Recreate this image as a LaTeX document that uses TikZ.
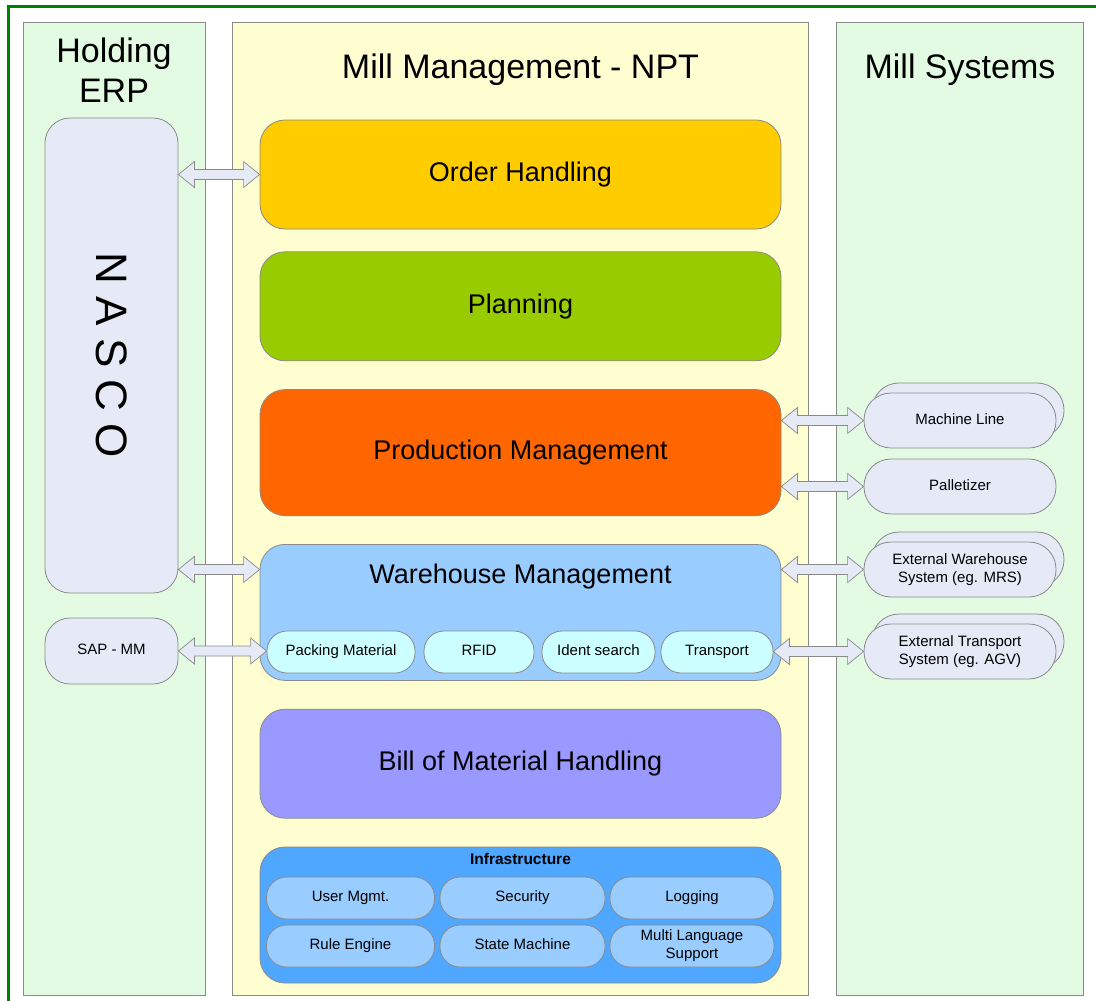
\documentclass[tikz,border=0pt]{standalone}
\usepackage{fontspec}
\setmainfont{Liberation Sans}
\usepackage{tikz}
\usetikzlibrary{positioning,calc,shadows}
\definecolor{frameg}{HTML}{008000}
\definecolor{colgreen}{HTML}{E2FBE2}
\definecolor{colyellow}{HTML}{FFFED0}
\definecolor{edgegray}{HTML}{8A8A8A}
\definecolor{extfill}{HTML}{E5EAF6}
\definecolor{orderc}{HTML}{FFCC00}
\definecolor{planc}{HTML}{99CC00}
\definecolor{prodc}{HTML}{FF6600}
\definecolor{whc}{HTML}{99CCFF}
\definecolor{whpart}{HTML}{CCFFFF}
\definecolor{bomc}{HTML}{9999FF}
\definecolor{infrac}{HTML}{4FA7FF}

\begin{document}
\begin{tikzpicture}[
  x=1pt, y=-1pt,
  column/.style={draw=edgegray, line width=0.8pt, anchor=north west, inner sep=0pt, minimum height=973pt},
  coltitle/.style={font=\fontsize{34}{40}\selectfont, align=center},
  module/.style={draw=edgegray, line width=0.8pt, rounded corners=25pt, minimum width=521pt, font=\fontsize{27}{32}\selectfont},
  part/.style={draw=edgegray, line width=0.8pt, rounded corners=20pt, minimum height=42pt, inner sep=0pt,
               font=\fontsize{15}{18}\selectfont, align=center, text height=11pt, text depth=3.2pt},
  ext/.style={draw=edgegray, line width=0.8pt, fill=extfill, rounded corners=27pt, minimum width=192pt, minimum height=55pt, inner sep=0pt,
              font=\fontsize{15}{18}\selectfont, align=center, text height=11pt, text depth=3.2pt},
  twoline/.style={text height=, text depth=},
  backcopy/.style={copy shadow={shadow xshift=8pt, shadow yshift=10pt}},
  link/.style={draw=edgegray, fill=extfill, line width=0.7pt,
    to path={-- ++(16,-13) -- ++(0,8) -- ($(\tikztotarget)+(-16,-5)$) -- ++(0,-8) -- (\tikztotarget)
             -- ++(-16,13) -- ++(0,-8) -- ($(\tikztostart)+(16,5)$) -- ++(0,8) -- cycle}},
]
  \fill[white] (0,0) rectangle (1096,1001);
  \useasboundingbox (0,0) rectangle (1096,1001);
  \draw[frameg, line width=2.8pt] (8.7,1001) -- (8.7,6.7) -- (1096,6.7);

  % columns
  \node[column, fill=colgreen,  minimum width=181.7pt] (erpcol)  at (23.3,21.7)  {};
  \node[column, fill=colyellow, minimum width=576pt]   (nptcol)  at (232.3,21.7) {};
  \node[column, fill=colgreen,  minimum width=247pt]   (millcol) at (836,21.7)   {};

  \node[coltitle]              (erptitle)  at (114,70)   {Holding\\ERP};
  \node[coltitle, anchor=base] (npttitle)  at (520.5,78) {Mill Management - NPT};
  \node[coltitle, anchor=base] (milltitle) at (960,78)   {Mill Systems};

  % holding ERP
  \node[draw=edgegray, line width=0.8pt, fill=extfill, rounded corners=25pt, rotate=-90,
        minimum width=475pt, minimum height=133pt, font=\fontsize{44}{44}\selectfont] (nasco) at (111.5,355.5) {N A S C O};
  \node[ext, minimum width=133pt, minimum height=66pt, rounded corners=25pt] (sap) at (111.5,651) {SAP - MM};

  % mill management
  \node[module, fill=orderc, minimum height=109pt]  (order) at (520.5,174.5) {Order Handling};
  \node[module, fill=planc,  minimum height=109pt, below=22pt of order] (plan) {Planning};
  \node[module, fill=prodc,  minimum height=126pt, below=28pt of plan]  (prod) {Production Management};
  \node[module, fill=whc,    minimum height=136pt, below=28pt of prod]  (wh)   {};
  \node[module, fill=bomc,   minimum height=109pt, below=28pt of wh]    (bom)  {Bill of Material Handling};
  \node[module, fill=infrac, minimum height=136pt, below=28pt of bom]   (infra) {};

  \node[font=\fontsize{27}{32}\selectfont] (whtitle) at (520.5,577) {Warehouse Management};
  \node[part, fill=whpart, minimum width=148pt] (packing)   at (341,652)   {Packing Material};
  \node[part, fill=whpart, minimum width=110pt] (rfid)      at (479,652)   {RFID};
  \node[part, fill=whpart, minimum width=113pt] (ident)     at (598.5,652) {Ident search};
  \node[part, fill=whpart, minimum width=112pt] (transport) at (717,652)   {Transport};

  \node[font=\bfseries\fontsize{15.5}{18}\selectfont] (infratitle) at (520.5,859) {Infrastructure};
  \node[part, fill=whc, minimum width=168pt] (usermgmt) at (350.5,898) {User Mgmt.};
  \node[part, fill=whc, minimum width=165pt] (security) at (522.5,898) {Security};
  \node[part, fill=whc, minimum width=164pt] (logging)  at (692,898)   {Logging};
  \node[part, fill=whc, minimum width=168pt] (rules)    at (350.5,946) {Rule Engine};
  \node[part, fill=whc, minimum width=165pt] (statem)   at (522.5,946) {State Machine};
  \node[part, fill=whc, minimum width=164pt, twoline] (language) at (692,946) {Multi Language\\Support};

  % mill systems
  \node[ext, backcopy]          (machine) at (960,420.5) {Machine Line};
  \node[ext]                    (pallet)  at (960,486.5) {Palletizer};
  \node[ext, backcopy, twoline] (extwh)   at (960,569.5) {External Warehouse\\System (eg. MRS)};
  \node[ext, backcopy, twoline] (exttr)   at (960,651.5) {External Transport\\System (eg. AGV)};

  % interfaces
  \draw[link] (nasco.north |- order.west)  to (order.west);
  \draw[link] (nasco.north |- extwh.west)  to (wh.west |- extwh.west);
  \draw[link] (sap.east)                   to (packing.west |- sap.east);
  \draw[link] (prod.east |- machine.west)  to (machine.west);
  \draw[link] (prod.east |- pallet.west)   to (pallet.west);
  \draw[link] (wh.east |- extwh.west)      to (extwh.west);
  \draw[link] (transport.east |- exttr.west) to (exttr.west);
\end{tikzpicture}
\end{document}
